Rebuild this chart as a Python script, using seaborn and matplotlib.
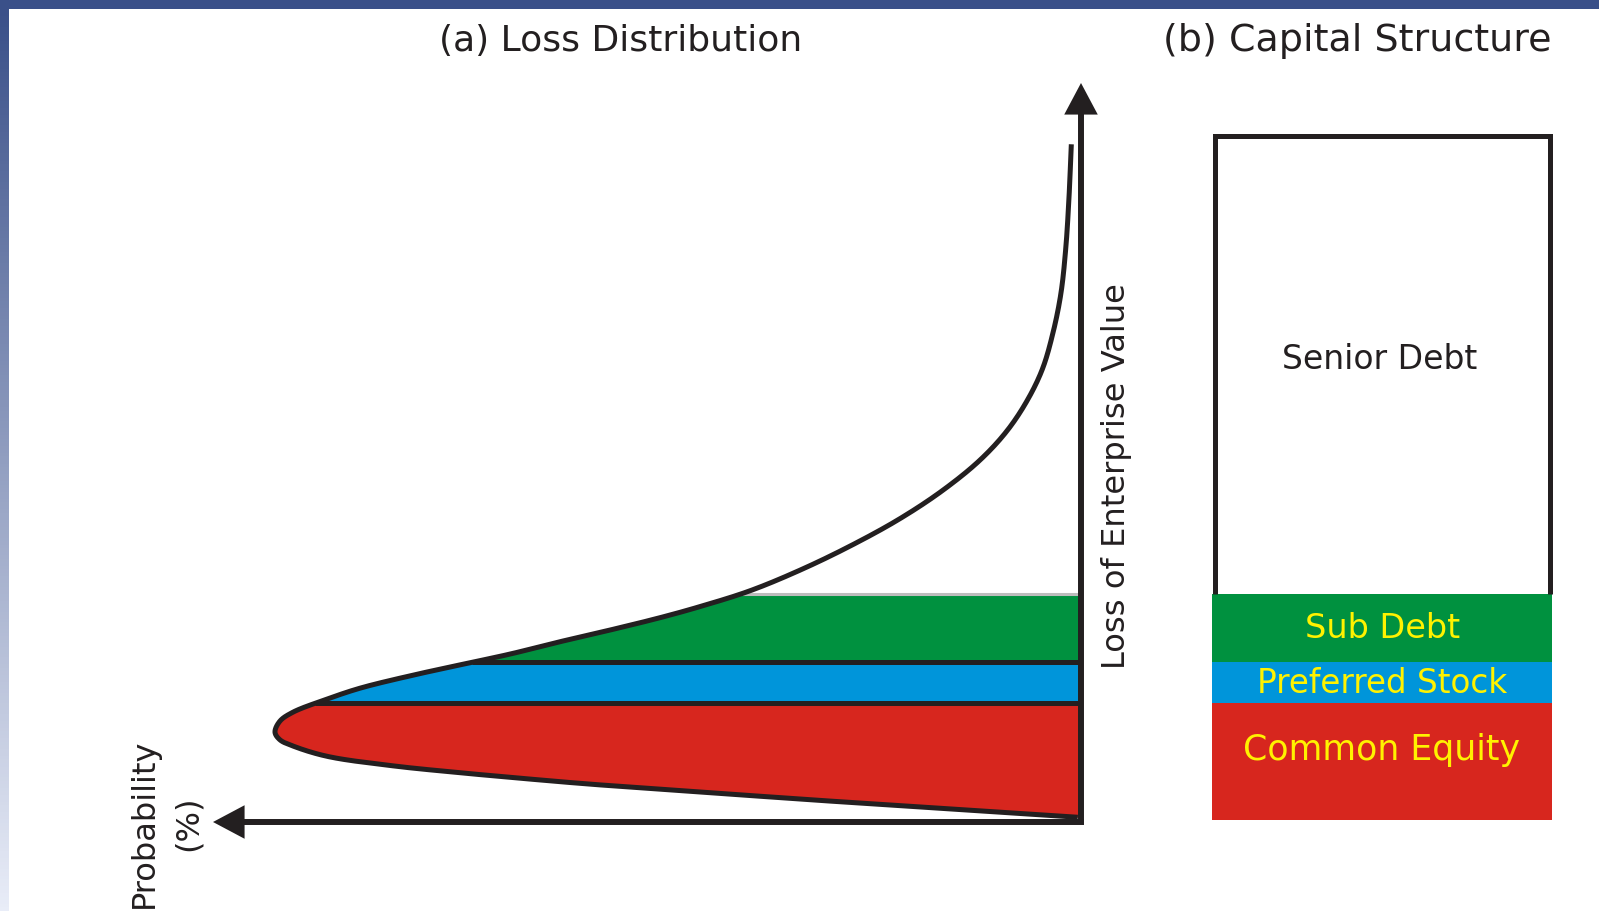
import numpy as np
import matplotlib
matplotlib.use("Agg")
import matplotlib.pyplot as plt
from matplotlib.patches import Rectangle
import seaborn as sns

# ---------------- data ----------------
# Loss distribution: loss of enterprise value (%) and relative probability (%)
loss_pct = [0.4, 1.4, 2.7, 4.1, 5.2, 6.0, 6.9, 7.9, 9.3, 10.8, 11.7, 12.8,
            14.4, 15.7, 17.6, 19.2, 21.0, 22.6, 24.2, 26.0, 27.7, 29.5, 31.1,
            33.4, 36.4, 39.9, 43.9, 48.1, 52.5, 56.7, 61.1, 65.7, 70.9, 76.7, 83.2, 90.5, 98.5]
probability = [0.04, 1.33, 3.04, 4.75, 6.06, 6.87, 7.71, 8.54, 9.36, 9.78, 9.94, 10.0,
               9.94, 9.78, 9.36, 8.95, 8.33, 7.71, 7.08, 6.46, 5.84, 5.22, 4.73,
               4.11, 3.49, 2.87, 2.25, 1.71, 1.25, 0.92, 0.67, 0.48, 0.35, 0.25, 0.19, 0.15, 0.12]

# Capital structure (share of enterprise value, %), bottom to top
tranches = ["Common Equity", "Preferred Stock", "Sub Debt", "Senior Debt"]
tranche_share = [17, 6, 10, 67]
tranche_colors = ["#D7261E", "#0095DA", "#00913F", "#FFFFFF"]
label_colors = ["#FFF200", "#FFF200", "#FFF200", "#231F20"]
label_loss = [10.3, 20.0, 28.0, 67.3]

titles = ["(a) Loss Distribution", "(b) Capital Structure"]
y_label = "Loss of Enterprise Value"
x_label = "Probability\n(%)"

# ---------------- style ----------------
sns.set_theme(style="white")
plt.rcParams["font.family"] = ["DejaVu Sans"]
INK = "#231F20"
NAVY = (58 / 255, 80 / 255, 137 / 255)
PALE = (233 / 255, 237 / 255, 248 / 255)

W, H = 1599, 912
fig = plt.figure(figsize=(W / 100, H / 100), dpi=100)
fig.patch.set_facecolor("white")


def fx(px):
    return px / W


def fy(py):
    return 1 - py / H


# frame: top band and left gradient strip
fig.add_artist(Rectangle((0, fy(10)), 1, 10 / H, transform=fig.transFigure,
                         facecolor=NAVY, edgecolor="none", zorder=0))
strip = fig.add_axes([0, 0, 9 / W, 1 - 10 / H])
grad = np.linspace(0, 1, 256)[:, None, None]
img = (1 - grad) * np.array(NAVY)[None, None, :] + grad * np.array(PALE)[None, None, :]
strip.imshow(img, aspect="auto", extent=(0, 1, 0, 1), origin="upper")
strip.axis("off")

# pixel anchors of the data scales
P0, PS = 1081, 80.6     # px of probability 0, px per unit (probability grows to the left)
L0, LS = 821, 6.86      # px of loss 0, px per % loss

ax_l = (150, 1140)
ax_t, ax_b = 60, 880
axL = fig.add_axes([fx(ax_l[0]), fy(ax_b), (ax_l[1] - ax_l[0]) / W, (ax_b - ax_t) / H])
axL.set_xlim((P0 - ax_l[0]) / PS, (P0 - ax_l[1]) / PS)
axL.set_ylim((L0 - ax_b) / LS, (L0 - ax_t) / LS)
axL.axis("off")

B0, BS = 1382, 340
ar = (1170, 1595)
axR = fig.add_axes([fx(ar[0]), fy(ax_b), (ar[1] - ar[0]) / W, (ax_b - ax_t) / H])
axR.set_xlim((ar[0] - B0) / BS, (ar[1] - B0) / BS)
axR.set_ylim((L0 - ax_b) / LS, (L0 - ax_t) / LS)
axR.axis("off")


# smooth rendering of the read points (centripetal Catmull-Rom, passes through every point)
def catmull_rom(x, y, n=24, alpha=0.5):
    pts = np.column_stack([x, y])
    p = np.vstack([2 * pts[0] - pts[1], pts, 2 * pts[-1] - pts[-2]])
    out = []
    for i in range(1, len(p) - 2):
        Q0, Q1, Q2, Q3 = p[i - 1], p[i], p[i + 1], p[i + 2]
        t0 = 0.0
        t1 = t0 + np.linalg.norm(Q1 - Q0) ** alpha
        t2 = t1 + np.linalg.norm(Q2 - Q1) ** alpha
        t3 = t2 + np.linalg.norm(Q3 - Q2) ** alpha
        t = np.linspace(t1, t2, n, endpoint=False)[:, None]
        A1 = (t1 - t) / (t1 - t0) * Q0 + (t - t0) / (t1 - t0) * Q1
        A2 = (t2 - t) / (t2 - t1) * Q1 + (t - t1) / (t2 - t1) * Q2
        A3 = (t3 - t) / (t3 - t2) * Q2 + (t - t2) / (t3 - t2) * Q3
        B1 = (t2 - t) / (t2 - t0) * A1 + (t - t0) / (t2 - t0) * A2
        B2 = (t3 - t) / (t3 - t1) * A2 + (t - t1) / (t3 - t1) * A3
        out.append((t2 - t) / (t2 - t1) * B1 + (t - t1) / (t2 - t1) * B2)
    out.append(pts[-1:])
    return np.vstack(out)


# ---------------- (a) loss distribution ----------------
L = np.array(loss_pct)
P = np.array(probability)
sm = catmull_rom(P * PS, L * LS)
Ps, Ls = sm[:, 0] / PS, sm[:, 1] / LS
Lmono = np.maximum.accumulate(Ls)
bounds = np.concatenate([[0], np.cumsum(tranche_share)])


def p_at(level):
    return np.interp(level, Lmono, Ps)


for i in range(3):
    lo, hi = bounds[i], bounds[i + 1]
    lo_eff = max(lo, Lmono[0])
    m = (Lmono > lo_eff) & (Lmono < hi)
    ls = np.concatenate([[lo_eff], Lmono[m], [hi]])
    ps = np.concatenate([[p_at(lo_eff)], Ps[m], [p_at(hi)]])
    axL.fill_betweenx(ls, 0, ps, color=tranche_colors[i], lw=0, zorder=1)

# light grey rim on top of the sub-debt band
top_b = bounds[3]
axL.plot([0, p_at(top_b)], [top_b, top_b], color="#BDBDBD", lw=2.2,
         solid_capstyle="butt", zorder=2)
# black separators between tranches
for b in bounds[1:3]:
    axL.plot([0, p_at(b)], [b, b], color=INK, lw=3.6, solid_capstyle="butt", zorder=3)

sns.lineplot(x=Ps, y=Ls, sort=False, estimator=None, color=INK, lw=3.6,
             solid_capstyle="butt", ax=axL, zorder=4, legend=False)

arrow_kw = dict(arrowstyle="-|>,head_length=1.6,head_width=0.85", mutation_scale=10,
                lw=4.3, color=INK, shrinkA=0, shrinkB=0, joinstyle="miter", capstyle="butt")
# vertical (loss) axis and horizontal (probability) axis
axL.annotate("", xy=(0, (L0 - 84) / LS), xytext=(0, (L0 - 823) / LS),
             arrowprops=arrow_kw, zorder=5)
axL.annotate("", xy=((P0 - 213) / PS, (L0 - 823) / LS), xytext=((P0 - 1084) / PS, (L0 - 823) / LS),
             arrowprops=arrow_kw, zorder=5)

# ---------------- (b) capital structure ----------------
bar_w = 1.0
for i, share in enumerate(tranche_share):
    axR.bar(0, share, bottom=bounds[i], width=bar_w, color=tranche_colors[i],
            lw=0, zorder=1)
e = 2.5 / BS
axR.plot([-bar_w / 2 + e, -bar_w / 2 + e, bar_w / 2 - e, bar_w / 2 - e],
         [bounds[3], bounds[4] - 0.3, bounds[4] - 0.3, bounds[3]],
         color=INK, lw=3.6, solid_joinstyle="miter", solid_capstyle="butt", zorder=2)

fig.canvas.draw()
renderer = fig.canvas.get_renderer()


def fit(t, target, rotated=False):
    bb = t.get_window_extent(renderer)
    cur = bb.height if rotated else bb.width
    t.set_fontsize(t.get_fontsize() * target / cur)


label_widths = [278, 250, 155, 195]
label_x = [-0.001, 0.0, 0.003, -0.006]
for i, name in enumerate(tranches):
    t = axR.text(label_x[i], label_loss[i], name, ha="center", va="center",
                 color=label_colors[i], fontsize=20, zorder=3)
    fit(t, label_widths[i])

t = fig.text(fx(621), fy(41), titles[0], ha="center", va="center", color=INK, fontsize=24)
fit(t, 364)
t = fig.text(fx(1357), fy(41), titles[1], ha="center", va="center", color=INK, fontsize=24)
fit(t, 388)
t = fig.text(fx(1117), fy(476), y_label, ha="center", va="center", rotation=90,
             color=INK, fontsize=22)
fit(t, 385, rotated=True)
t = fig.text(fx(166), fy(823), x_label, ha="center", va="center", rotation=90,
             multialignment="center", color=INK, fontsize=22, linespacing=1.55)
fit(t, 170, rotated=True)

fig.savefig("out.png", dpi=100, facecolor="white")
